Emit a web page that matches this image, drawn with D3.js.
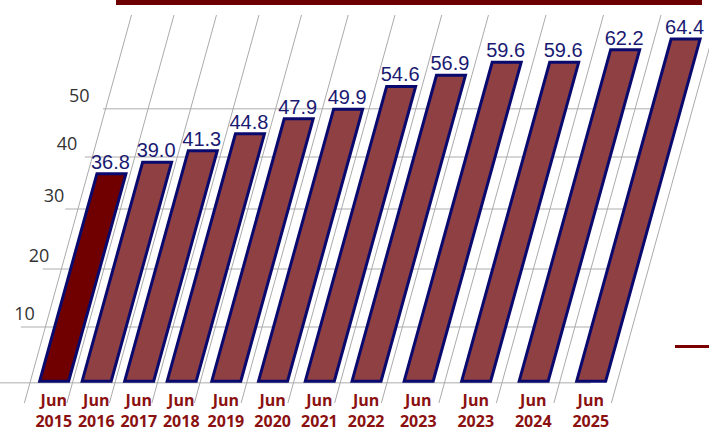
<!DOCTYPE html>
<html>
<head>
<meta charset="utf-8">
<script src="https://cdn.jsdelivr.net/npm/d3@7"></script>
<style>
  html, body { margin: 0; padding: 0; background: #fff; }
</style>
</head>
<body>
<div id="chart"></div>
<script>
const labels = ["Jun 2015", "Jun 2016", "Jun 2017", "Jun 2018", "Jun 2019", "Jun 2020",
                "Jun 2021", "Jun 2022", "Jun 2023", "Jun 2023", "Jun 2024", "Jun 2025"];
const values = [36.8, 39.0, 41.3, 44.8, 47.9, 49.9, 54.6, 56.9, 59.6, 59.6, 62.2, 64.4];
const tickValues = [10, 20, 30, 40, 50];
const gridValues = [0, 10, 20, 30, 40, 50];

const width = 709, height = 432;

const svg = d3.select("#chart").append("svg")
  .attr("width", width)
  .attr("height", height);

// y: the back wall is seen in perspective so the steps are not even
const y = d3.scaleLinear()
  .domain([0, 10, 20, 30, 40, 50, 70])
  .range([382.7, 327, 269, 209, 157, 108.7, 12]);
const y0 = y(0);

// x: slot boundaries, spreading out towards the right
const x = d3.scaleLinear()
  .domain([0, 4, 8, 12])
  .range([30, 200, 387, 617]);

const slant = 0.276;
function shift(py) { return slant * (y0 - py); }

const barW = 29;
function cx(i) { return x(i + 0.5) + 2.5; }

// title strip at the top
svg.append("rect")
  .attr("x", 116).attr("y", 0)
  .attr("width", 586).attr("height", 5)
  .attr("fill", "#6c0000");

// horizontal gridlines
svg.append("g")
  .selectAll("line")
  .data(gridValues)
  .enter().append("line")
  .attr("x1", d => 0.376 * (y0 - y(d)))
  .attr("x2", d => cx(11) + shift(y(d)))
  .attr("y1", d => y(d))
  .attr("y2", d => y(d))
  .attr("stroke", "#c8c8c8")
  .attr("stroke-width", 1.5);

// slanted slot lines
svg.append("g")
  .selectAll("line")
  .data(d3.range(labels.length + 1))
  .enter().append("line")
  .attr("x1", d => x(d) + shift(403))
  .attr("y1", 403)
  .attr("x2", d => x(d) + shift(15))
  .attr("y2", 15)
  .attr("stroke", "#ababab")
  .attr("stroke-width", 1);

// y tick labels
svg.append("g")
  .selectAll("text")
  .data(tickValues)
  .enter().append("text")
  .attr("x", d => 21 + 0.25 * (y0 - y(d)))
  .attr("y", d => y(d) - 7)
  .attr("text-anchor", "end")
  .attr("font-family", "'Open Sans', sans-serif")
  .attr("font-size", "18px")
  .attr("fill", "#333333")
  .text(d => d);

// bars
svg.append("g")
  .selectAll("path")
  .data(values)
  .enter().append("path")
  .attr("d", function(d, i) {
    const b = y0 - 1.5, t = y(d), c = cx(i);
    return "M" + (c - barW / 2 + shift(b)) + "," + b +
           "L" + (c + barW / 2 + shift(b)) + "," + b +
           "L" + (c + barW / 2 + shift(t)) + "," + t +
           "L" + (c - barW / 2 + shift(t)) + "," + t + "Z";
  })
  .attr("fill", (d, i) => i === 0 ? "#700000" : "#8e4043")
  .attr("stroke", "#0a0a6e")
  .attr("stroke-width", 3)
  .attr("stroke-linejoin", "miter");

// value labels
svg.append("g")
  .selectAll("text")
  .data(values)
  .enter().append("text")
  .attr("x", (d, i) => cx(i) + shift(y(d)) - 1)
  .attr("y", d => y(d) - 5)
  .attr("text-anchor", "middle")
  .attr("font-family", "'Liberation Sans Narrow', 'Arial Narrow', sans-serif")
  .attr("font-size", "20px")
  .attr("fill", "#1a1a72")
  .text(d => d.toFixed(1));

// category labels, two lines each
const cat = svg.append("g")
  .selectAll("text")
  .data(labels)
  .enter().append("text")
  .attr("text-anchor", "middle")
  .attr("font-family", "'Open Sans', sans-serif")
  .attr("font-weight", "bold")
  .attr("font-size", "16px")
  .attr("fill", "#8b1111");

cat.append("tspan")
  .attr("x", (d, i) => cx(i))
  .attr("y", 406)
  .text(d => d.split(" ")[0]);

cat.append("tspan")
  .attr("x", (d, i) => cx(i))
  .attr("y", 427)
  .text(d => d.split(" ")[1]);

// legend stub at the right edge
svg.append("line")
  .attr("x1", 675).attr("x2", width)
  .attr("y1", 346.5).attr("y2", 346.5)
  .attr("stroke", "#7a0000")
  .attr("stroke-width", 3);
</script>
</body>
</html>
